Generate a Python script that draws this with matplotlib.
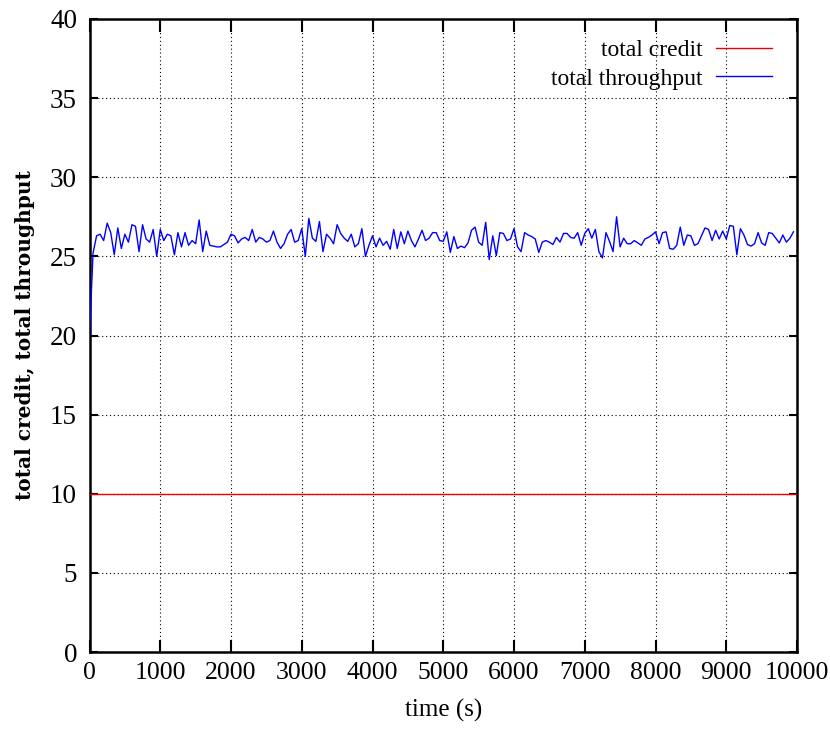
import numpy as np
import matplotlib
matplotlib.use("Agg")
import matplotlib.pyplot as plt

# ---- data ----
time_s = np.arange(0, 10000, 50)
throughput = [
    20.0, 25.2, 26.3, 26.4, 26.0, 27.1, 26.5, 25.1, 26.8, 25.5, 26.4, 25.9, 27.0, 26.9, 25.3, 27.0, 26.1, 25.9, 26.7, 25.0, 26.7,
    26.0, 26.4, 26.3, 25.1, 26.5, 25.6, 26.5, 25.7, 26.0, 25.8, 27.3, 25.3, 26.6,
    25.7, 25.65, 25.6, 25.6, 25.75, 25.9, 26.4, 26.3, 25.85, 26.1, 26.2, 26.0, 26.7, 25.9, 26.2, 26.1, 25.9,
    26.0, 26.6, 25.9, 25.5, 25.8, 26.4, 26.7, 25.9, 26.0, 26.75, 25.0, 27.4, 26.15, 25.95, 27.2, 25.3, 26.4,
    26.15, 25.8, 27.0, 26.45, 26.15, 25.95, 26.4, 25.6, 25.8, 26.75, 25.0, 25.7, 26.3, 25.6, 26.15, 25.7, 25.95,
    25.45, 26.7, 25.5, 26.55, 25.8, 26.6, 26.0, 25.6, 26.1, 26.65, 26.0, 26.15, 26.5, 26.5, 26.0, 25.95,
    26.55, 25.25, 26.25, 25.5, 25.65, 25.55, 25.85, 26.65, 26.85, 25.9, 25.7, 27.15, 24.8, 26.3, 25.05, 26.5, 26.45,
    26.0, 26.1, 26.75, 25.6, 25.3, 26.5, 26.35, 26.25, 26.1, 25.25, 25.9, 26.0, 25.9, 25.75, 26.2, 25.9,
    26.45, 26.45, 26.2, 26.15, 26.5, 25.7, 26.45, 26.75, 26.15, 26.7, 25.3, 24.9, 26.5, 25.95, 25.3, 27.5, 25.6,
    26.15, 25.8, 25.8, 26.0, 25.85, 25.7, 26.1, 26.2, 26.35, 26.55, 25.8, 26.5, 26.55, 25.5, 25.45, 25.7,
    26.85, 25.7, 26.35, 26.3, 25.7, 25.8, 26.3, 26.8, 26.7, 26.0, 26.65, 26.1, 26.6, 26.1, 26.95, 26.9, 25.1,
    26.75, 26.35, 25.75, 25.65, 25.8, 26.5, 25.85, 25.7, 26.5, 26.45, 26.15, 25.85, 26.35, 25.9, 26.15, 26.55,
]
credit_time = [0, 10000]
credit = [10, 10]
xticks = [0, 1000, 2000, 3000, 4000, 5000, 6000, 7000, 8000, 9000, 10000]
yticks = [0, 5, 10, 15, 20, 25, 30, 35, 40]

plt.rcParams['font.family'] = ['Liberation Serif', 'DejaVu Serif']

fig = plt.figure(figsize=(8.3, 7.47), dpi=100)
ax = fig.add_axes([89.5 / 830, 1 - 652 / 747, (797 - 89.5) / 830, (652 - 19) / 747])

ax.plot(credit_time, credit, color='#ee0000', lw=1.0, label='total credit', zorder=3)
ax.plot(time_s, throughput, color='#0000ff', lw=1.0, label='total throughput', zorder=3)

ax.set_xlim(0, 10000)
ax.set_ylim(0, 40)
ax.set_xticks(xticks)
ax.set_yticks(yticks)
ax.set_xticklabels([str(v) for v in xticks], fontsize=18.5)
ax.set_yticklabels([str(v) for v in yticks], fontsize=19.5)

ax.grid(True, color='black', linestyle=(0, (1, 2.5)), linewidth=0.8)
ax.set_axisbelow(True)

ax.tick_params(axis='x', direction='in', length=9, width=1.5, top=True, pad=7)
ax.tick_params(axis='y', direction='in', length=6, width=1.5, right=True, pad=9)
for s in ax.spines.values():
    s.set_linewidth(1.8)

ax.set_xlabel('time (s)', fontsize=18, labelpad=11)
ax.set_ylabel('total credit, total throughput', fontsize=14.5, family=['DejaVu Serif'],
              fontweight='semibold', labelpad=11)

leg = ax.legend(loc='upper right', bbox_to_anchor=(0.985, 0.99), frameon=False,
                markerfirst=False, fontsize=17, handlelength=2.4, handletextpad=0.55,
                labelspacing=0.3, borderaxespad=0.2)

fig.savefig('out.png', dpi=100)
